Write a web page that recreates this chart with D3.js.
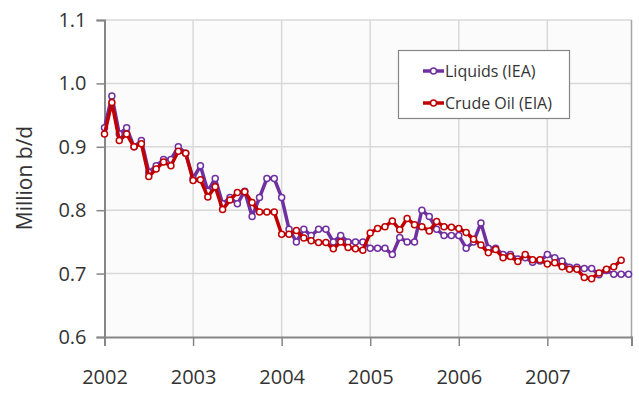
<!DOCTYPE html>
<html><head><meta charset="utf-8">
<script src="https://cdn.jsdelivr.net/npm/d3@7"></script>
<style>
html,body{margin:0;padding:0;background:#fff;}
svg{display:block;font-family:"Open Sans",sans-serif;}
</style></head>
<body><svg id="c" width="639" height="394"></svg>
<script>
// Monthly data, Jan 2002 onwards
const years = ["2002","2003","2004","2005","2006","2007"];
const yTicks = [0.6,0.7,0.8,0.9,1.0,1.1];
const liquidsIEA = [
  0.93,0.98,0.92,0.93,0.90,0.91,0.86,0.87,0.88,0.88,0.90,0.89,
  0.85,0.87,0.83,0.85,0.81,0.82,0.81,0.83,0.79,0.82,0.85,0.85,
  0.82,0.77,0.75,0.77,0.76,0.77,0.77,0.75,0.76,0.75,0.75,0.75,
  0.74,0.74,0.74,0.73,0.757,0.75,0.75,0.80,0.79,0.77,0.76,0.76,
  0.76,0.74,0.75,0.78,0.74,0.74,0.73,0.73,0.723,0.725,0.718,0.72,
  0.73,0.725,0.72,0.71,0.71,0.708,0.708,0.698,0.705,0.699,0.699,0.699
];
const crudeEIA = [
  0.92,0.97,0.91,0.92,0.90,0.905,0.853,0.865,0.876,0.870,0.893,0.890,
  0.847,0.848,0.821,0.837,0.801,0.816,0.828,0.829,0.812,0.797,0.797,0.797,
  0.762,0.762,0.768,0.756,0.752,0.749,0.749,0.739,0.750,0.741,0.739,0.737,
  0.764,0.771,0.774,0.783,0.769,0.787,0.777,0.774,0.767,0.782,0.774,0.773,
  0.771,0.765,0.754,0.745,0.733,0.738,0.725,0.727,0.719,0.730,0.722,0.722,
  0.715,0.717,0.711,0.707,0.707,0.694,0.692,0.701,0.707,0.711,0.721
];
const seriesNames = ["Liquids (IEA)","Crude Oil (EIA)"];
const seriesColors = ["#7030a0","#c00000"];

const svg = d3.select("#c");
const L = 104.5, R = 631.5, T = 20, B = 337;
const x = d3.scaleLinear().domain([0, 71.4]).range([L, R]);
const y = d3.scaleLinear().domain([0.6, 1.1]).range([B, T]);

// plot background
svg.append("rect").attr("x",L).attr("y",T).attr("width",R-L).attr("height",B-T).attr("fill","#fbfbfb");

// gridlines
svg.append("g").selectAll("line").data(yTicks.slice(1)).join("line")
  .attr("x1",L).attr("x2",R).attr("y1",d=>y(d)).attr("y2",d=>y(d))
  .attr("stroke","#d9d9d9").attr("stroke-width",1.5);
svg.append("g").selectAll("line").data(years.slice(1)).join("line")
  .attr("x1",(d,i)=>x((i+1)*12)).attr("x2",(d,i)=>x((i+1)*12)).attr("y1",T).attr("y2",B)
  .attr("stroke","#d9d9d9").attr("stroke-width",1.5);

// right border
svg.append("line").attr("x1",R).attr("x2",R).attr("y1",T).attr("y2",B).attr("stroke","#a6a6a6").attr("stroke-width",1.5);

// axes
const yAxis = d3.axisLeft(y).tickValues(yTicks).tickFormat(d3.format(".1f")).tickSize(8).tickPadding(8);
const gy = svg.append("g").attr("transform",`translate(${L},0)`).call(yAxis);
const xAxis = d3.axisBottom(x).tickValues(years.map((d,i)=>i*12)).tickFormat((d,i)=>years[i]).tickSize(9).tickPadding(24);
const gx = svg.append("g").attr("transform",`translate(0,${B})`).call(xAxis);
[gy,gx].forEach(g=>{
  g.select(".domain").attr("stroke","#868686").attr("stroke-width",2);
  g.selectAll(".tick line").attr("stroke","#868686").attr("stroke-width",1.5);
  g.selectAll(".tick text").attr("fill","#333").style("font-size","20px").style("font-family","'Open Sans',sans-serif");
});
gy.selectAll(".tick text").attr("dx","-2");

// y title
svg.append("text").attr("transform","translate(32,178) rotate(-90)")
  .attr("text-anchor","middle").attr("fill","#333").style("font-size","21px").text("Million b/d");

// series
const data = [liquidsIEA, crudeEIA];
const line = d3.line().x((d,i)=>x(i)).y(d=>y(d));
data.forEach((s,k)=>{
  const g = svg.append("g");
  g.append("path").datum(s).attr("d",line).attr("fill","none")
    .attr("stroke",seriesColors[k]).attr("stroke-width",3.5).attr("stroke-linejoin","round");
  g.selectAll("circle").data(s).join("circle")
    .attr("cx",(d,i)=>x(i)).attr("cy",d=>y(d)).attr("r",3)
    .attr("fill","#fff").attr("stroke",seriesColors[k]).attr("stroke-width",1.5);
});

// legend
const lg = svg.append("g");
lg.append("rect").attr("x",398.5).attr("y",50.5).attr("width",171).attr("height",68)
  .attr("fill","#fff").attr("stroke","#868686").attr("stroke-width",1.2);
seriesNames.forEach((n,k)=>{
  const yy = 71 + k*32;
  lg.append("line").attr("x1",423).attr("x2",444).attr("y1",yy).attr("y2",yy)
    .attr("stroke",seriesColors[k]).attr("stroke-width",3.5);
  lg.append("circle").attr("cx",433.5).attr("cy",yy).attr("r",3)
    .attr("fill","#fff").attr("stroke",seriesColors[k]).attr("stroke-width",1.5);
  lg.append("text").attr("x",445).attr("y",yy).attr("dy","0.35em")
    .attr("fill","#333").style("font-size","16px").text(n);
});
</script></body></html>
